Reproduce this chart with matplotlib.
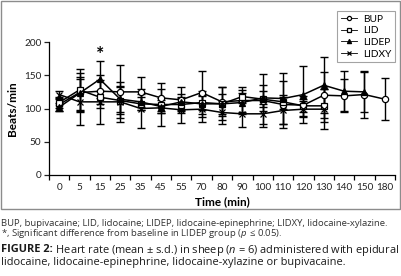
import numpy as np
import matplotlib.pyplot as plt
from matplotlib.patches import Rectangle

plt.rcParams['font.family'] = ['Lato', 'DejaVu Sans']
plt.rcParams['mathtext.fontset'] = 'custom'
plt.rcParams['mathtext.it'] = 'Open Sans:italic'
plt.rcParams['mathtext.rm'] = 'Open Sans'
plt.rcParams['mathtext.bf'] = 'Open Sans:bold'

# DATA
times = ['0', '5', '15', '25', '35', '45', '55', '70', '80', '90',
         '100', '110', '120', '130', '140', '150', '180']

bup = [106, 124, 126, 125, 125, 116, 113, 124, 110, 112, 112, 106, 105, 120, 119, 121, 114]
bup_sd = [10, 30, 25, 40, 22, 23, 20, 32, 22, 20, 40, 35, 10, 35, 25, 35, 32]

lid = [109, 128, 117, 112, 107, 106, 106, 109, 107, 118, 114, 110, 104, 104]
lid_sd = [8, 32, 10, 20, 10, 10, 10, 12, 15, 10, 12, 10, 15, 25]

lidep = [102, 123, 144, 114, 110, 103, 110, 107, 107, 109, 116, 115, 121, 135, 126, 125]
lidep_sd = [6, 25, 28, 20, 12, 10, 12, 20, 25, 15, 20, 38, 43, 42, 30, 30]

lidxy = [121, 110, 110, 110, 100, 101, 98, 99, 94, 92, 92, 97, 99, 99]
lidxy_sd = [6, 35, 33, 30, 30, 28, 20, 20, 18, 20, 15, 20, 12, 30]

# FIGURE
W, H = 402, 276
fig = plt.figure(figsize=(W / 100, H / 100), dpi=100)
ax = fig.add_axes([49 / W, 1 - 175 / H, (395 - 49) / W, (175 - 42) / H])

# outer chart border
fig.patches.append(Rectangle((1 / W, 1 - 209 / H), 399 / W, 208 / H, transform=fig.transFigure,
                             fill=False, edgecolor='#8c8c8c', lw=1))

series = [
    ('BUP', bup, bup_sd, 'o', 'white'),
    ('LID', lid, lid_sd, 's', 'white'),
    ('LIDEP', lidep, lidep_sd, '^', 'black'),
    ('LIDXY', lidxy, lidxy_sd, 'x', 'black'),
]

handles = []
for name, vals, sd, mk, fc in series:
    xs = np.arange(len(vals))
    ax.errorbar(xs, vals, yerr=sd, fmt='none', ecolor='black', elinewidth=1,
                capsize=3.2, capthick=1, zorder=2)
    ln, = ax.plot(xs, vals, color='black', lw=1.1, marker=mk, markersize=4.5,
                  markerfacecolor=fc, markeredgecolor='black', markeredgewidth=0.9,
                  zorder=3)
    handles.append(ln)

ax.text(2, 181, '*', ha='center', va='center', fontsize=14, fontweight='bold')

ax.set_ylim(0, 200)
ax.set_xlim(-0.5, len(times) - 0.5)
ax.set_yticks([0, 50, 100, 150, 200])
ax.set_xticks(np.arange(len(times)))
ax.set_xticklabels(times)
ax.set_xticks(np.arange(len(times) + 1) - 0.5, minor=True)
ax.tick_params(axis='x', which='major', length=0, pad=6, labelsize=7.2, colors='#222222')
ax.tick_params(axis='x', which='minor', length=3.5, width=0.9, direction='out')
ax.tick_params(axis='y', length=3.5, width=0.9, labelsize=7.2, pad=2, colors='#222222')
for s in ['top', 'right']:
    ax.spines[s].set_visible(False)
for s in ['left', 'bottom']:
    ax.spines[s].set_linewidth(0.9)
ax.set_ylabel('Beats/min', fontsize=8.5, fontweight='bold', labelpad=4)
ax.set_xlabel('Time (min)', fontsize=8.5, fontweight='bold', labelpad=3)

leg = ax.legend(handles, [s[0] for s in series], loc='upper right',
                bbox_to_anchor=(400 / W, 1 - 6 / H), bbox_transform=fig.transFigure,
                fontsize=7.3, frameon=True, fancybox=False, handlelength=1.6,
                labelspacing=0.25, borderpad=0.35, handletextpad=0.6)
leg.get_frame().set_edgecolor('#8c8c8c')
leg.get_frame().set_linewidth(0.8)
for h in leg.legend_handles:
    h.set_markersize(3)
    h.set_linewidth(0.6)

# CAPTION
cap_small = dict(fontsize=6.8, color='#333333', va='center', ha='left', family='Open Sans')
fig.text(1 / W, 1 - 223 / H, 'BUP, bupivacaine; LID, lidocaine; LIDEP, lidocaine-epinephrine; LIDXY, lidocaine-xylazine.',
         **cap_small)
fig.text(1 / W, 1 - 233 / H, r'*, Significant difference from baseline in LIDEP group ($p$ $\leq$0.05).',
         **cap_small)
t1 = fig.text(1 / W, 1 - 250 / H, 'FIGURE 2:', fontsize=7.9, fontweight='bold', color='#1a1a1a',
              va='center', ha='left', family='Open Sans')
ax.annotate(r' Heart rate (mean $\pm$ s.d.) in sheep ($n$ = 6) administered with epidural',
            xy=(1, 0.5), xycoords=t1, va='center', ha='left', fontsize=7.9, color='#1a1a1a',
            family='Open Sans', annotation_clip=False)
fig.text(1 / W, 1 - 262 / H, 'lidocaine, lidocaine-epinephrine, lidocaine-xylazine or bupivacaine.',
         fontsize=7.9, color='#1a1a1a', va='center', ha='left', family='Open Sans')

fig.savefig('out.png', dpi=100)
